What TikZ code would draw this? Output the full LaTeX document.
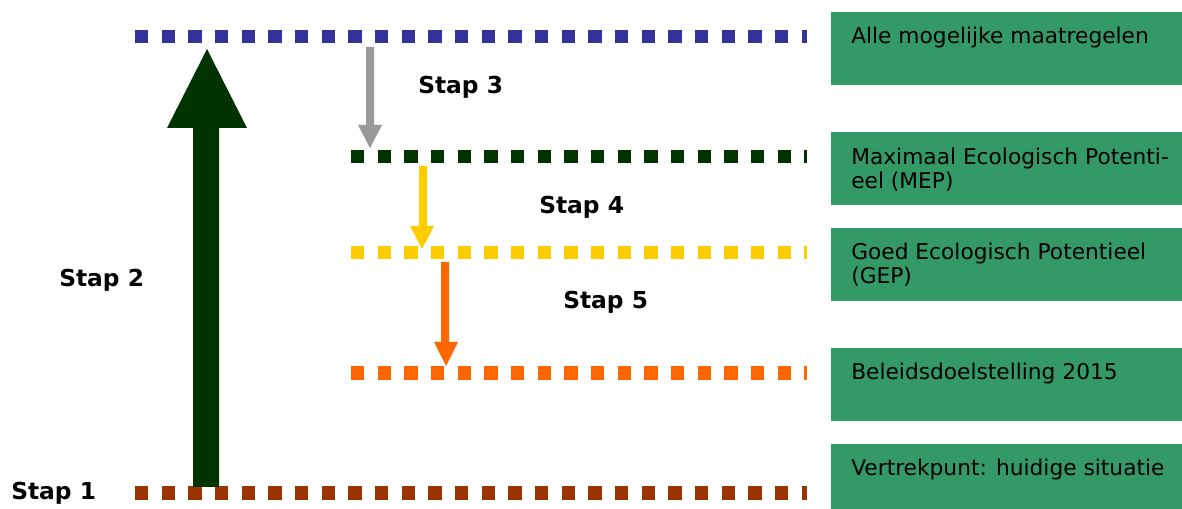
\documentclass[tikz,border=0pt]{standalone}
\usepackage{fontspec}
\setmainfont{DejaVu Sans}
\definecolor{boxgreen}{HTML}{339966}
\definecolor{lblue}{HTML}{333399}
\definecolor{dgreen}{HTML}{003300}
\definecolor{lyellow}{HTML}{FFCC00}
\definecolor{lorange}{HTML}{FF6600}
\definecolor{lbrown}{HTML}{993300}
\definecolor{lgray}{HTML}{999999}
\begin{document}
\begin{tikzpicture}[x=0.75pt,y=-0.75pt,
  level/.style={line width=10pt,dash pattern=on 10pt off 10pt,line cap=butt},
  btext/.style={anchor=base west,inner sep=0pt,font=\fontsize{16.3}{18}\selectfont,align=left,text=black},
  stap/.style={anchor=base west,inner sep=0pt,font=\fontsize{17.5}{20}\selectfont\bfseries}]
\useasboundingbox (0,0) rectangle (1182,509);
% green boxes
\fill[boxgreen] (831,12) rectangle (1182,85);
\fill[boxgreen] (831,132) rectangle (1182,205);
\fill[boxgreen] (831,228) rectangle (1182,301);
\fill[boxgreen] (831,348) rectangle (1182,421);
\fill[boxgreen] (831,444) rectangle (1182,509);
\node[btext] (t1) at (851,44) {Alle mogelijke maatregelen};
\node[btext] (t2) at (851,189) {Maximaal Ecologisch Potenti-\\eel (MEP)};
\node[btext] (t3) at (851,284) {Goed Ecologisch Potentieel\\(GEP)};
\node[btext] (t4) at (851,380) {Beleidsdoelstelling 2015};
\node[btext] (t5) at (851,476) {Vertrekpunt: huidige situatie};
% level lines
\coordinate (b1) at (135,36.5); \coordinate (b2) at (807,36.5);
\coordinate (g1) at (351,156.5); \coordinate (g2) at (807,156.5);
\coordinate (y1) at (351,252.5); \coordinate (y2) at (807,252.5);
\coordinate (o1) at (351,373); \coordinate (o2) at (807,373);
\coordinate (r1) at (135,493); \coordinate (r2) at (807,493);
\draw[level,lblue] (b1) -- (b2);
\draw[level,dgreen] (g1) -- (g2);
\draw[level,lyellow] (y1) -- (y2);
\draw[level,lorange] (o1) -- (o2);
\draw[level,lbrown] (r1) -- (r2);
% big arrow
\fill[dgreen] (193,487) -- (193,128) -- (167,128) -- (207,49) -- (247,128) -- (219,128) -- (219,487) -- cycle;
% gray arrow
\fill[lgray] (366,47) -- (366,125) -- (358,125) -- (370,148) -- (382,125) -- (374,125) -- (374,47) -- cycle;
% yellow arrow
\fill[lyellow] (419,166) -- (419,226) -- (410,226) -- (422,249) -- (434,226) -- (427,226) -- (427,166) -- cycle;
% orange arrow
\fill[lorange] (441,262) -- (441,342) -- (434,342) -- (446,366) -- (458,342) -- (449,342) -- (449,262) -- cycle;
% labels
\node[stap] (s1) at (11,499) {Stap 1};
\node[stap] (s2) at (59,287) {Stap 2};
\node[stap] (s3) at (418,94) {Stap 3};
\node[stap] (s4) at (539,214) {Stap 4};
\node[stap] (s5) at (563,309) {Stap 5};
\end{tikzpicture}
\end{document}
